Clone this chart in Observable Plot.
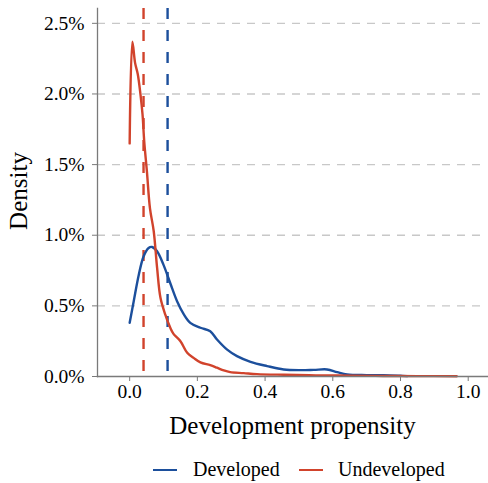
<!DOCTYPE html>
<html>
<head>
<meta charset="utf-8">
<script src="https://cdn.jsdelivr.net/npm/d3@7"></script>
<script src="https://cdn.jsdelivr.net/npm/@observablehq/plot@0.6"></script>
<style>
  body { margin: 0; background: #fff; font-family: "Liberation Serif", serif; }
  #wrap { position: relative; width: 488px; height: 483px; }
  #legend { position: absolute; left: 0; top: 445px; width: 488px; height: 38px; font-size: 20px; color: #000; }
  .key { position: absolute; height: 2.6px; top: 23.5px; }
  .lab { position: absolute; top: 11px; line-height: 26px; }
</style>
</head>
<body>
<div id="wrap">
  <div id="chart"></div>
  <div id="legend"></div>
</div>
<script>
// Density of development propensity, by parcel status
const series = ["Developed", "Undeveloped"];
const colors = ["#1c4f9c", "#d1432c"];

const developedX = [0, 0.012, 0.027, 0.041, 0.056, 0.066, 0.081, 0.1, 0.12, 0.14, 0.16, 0.179, 0.209, 0.238, 0.258, 0.288, 0.317, 0.357, 0.406, 0.455, 0.504, 0.544, 0.583, 0.613, 0.642, 0.7, 0.75, 0.8, 0.82];
const developedY = [0.38, 0.533, 0.72, 0.85, 0.91, 0.917, 0.887, 0.79, 0.66, 0.533, 0.44, 0.38, 0.345, 0.32, 0.262, 0.19, 0.144, 0.104, 0.074, 0.05, 0.045, 0.047, 0.05, 0.031, 0.015, 0.01, 0.009, 0.005, 0.003];

const undevelopedX = [0, 0.008, 0.016, 0.024, 0.032, 0.038, 0.043, 0.051, 0.06, 0.071, 0.081, 0.091, 0.105, 0.12, 0.13, 0.15, 0.17, 0.189, 0.209, 0.238, 0.258, 0.278, 0.297, 0.337, 0.376, 0.455, 0.55, 0.65, 0.75, 0.85, 0.966];
const undevelopedY = [1.65, 2.37, 2.22, 2.14, 1.995, 1.855, 1.665, 1.45, 1.19, 1.03, 0.77, 0.557, 0.44, 0.345, 0.3, 0.25, 0.168, 0.132, 0.1, 0.08, 0.062, 0.043, 0.031, 0.024, 0.017, 0.012, 0.008, 0.006, 0.004, 0.003, 0.002];

// group means (dashed verticals)
const means = [0.112, 0.041];

const xTicks = [0, 0.2, 0.4, 0.6, 0.8, 1.0];
const yTicks = [0, 0.005, 0.01, 0.015, 0.02, 0.025];

const rows = [
  ...developedX.map((x, i) => ({status: series[0], x, y: developedY[i] / 100})),
  ...undevelopedX.map((x, i) => ({status: series[1], x, y: undevelopedY[i] / 100}))
];
const meanRows = series.map((s, i) => ({status: s, x: means[i]}));

const axisGray = "#7a7a7a";
const serif = "Liberation Serif";
const fmtX = d3.format(".1f");
const fmtY = d3.format(".1%");

const chart = Plot.plot({
  width: 488,
  height: 445,
  marginLeft: 97,
  marginRight: 1,
  marginTop: 8,
  marginBottom: 69,
  style: {fontFamily: serif, fontSize: "19.5px", color: "#000", background: "#fff", overflow: "visible"},
  x: {domain: [-0.095, 1.057]},
  y: {domain: [0, 0.02605]},
  color: {domain: series, range: colors},
  marks: [
    Plot.gridY(yTicks.slice(1), {stroke: "#c8c8c8", strokeOpacity: 1, strokeWidth: 1.4, strokeDasharray: "8,7"}),
    Plot.ruleX(meanRows, {x: "x", stroke: "status", strokeWidth: 2.4, strokeDasharray: "11,11"}),
    Plot.line(rows, {x: "x", y: "y", z: "status", stroke: "status", strokeWidth: 2.4, curve: "catmull-rom"}),
    Plot.frame({anchor: "left", stroke: axisGray, strokeWidth: 1.3}),
    Plot.frame({anchor: "bottom", stroke: axisGray, strokeWidth: 1.3}),
    // tick marks
    Plot.axisX(xTicks, {tickSize: 5, stroke: axisGray, tickFormat: () => "", label: null}),
    Plot.axisY(yTicks, {tickSize: 5, stroke: axisGray, tickFormat: () => "", label: null}),
    // tick labels
    Plot.text(xTicks, {x: d => d, text: fmtX, frameAnchor: "bottom", dy: 15, lineAnchor: "middle", fontFamily: serif, fontSize: 19.5, fill: "#000"}),
    Plot.text(yTicks, {y: d => d, text: fmtY, frameAnchor: "left", dx: -13, textAnchor: "end", lineAnchor: "middle", fontFamily: serif, fontSize: 19.5, fill: "#000"}),
    Plot.text(["Development propensity"], {frameAnchor: "bottom", dy: 49, fontSize: 25, fontFamily: serif, fill: "#000", lineAnchor: "middle"})
  ]
});
document.getElementById("chart").appendChild(chart);

// y axis title, rotated along the left edge
d3.select(chart).append("text")
  .attr("transform", "translate(27,191) rotate(-90)")
  .attr("text-anchor", "middle")
  .attr("font-family", serif)
  .attr("font-size", 25)
  .attr("fill", "#000")
  .text("Density");

// legend below the plot
const legend = document.getElementById("legend");
const keyLeft = [153, 299];
const labLeft = [193, 338];
series.forEach((s, i) => {
  const k = document.createElement("div");
  k.className = "key";
  k.style.left = keyLeft[i] + "px";
  k.style.width = "24px";
  k.style.background = colors[i];
  legend.appendChild(k);
  const t = document.createElement("div");
  t.className = "lab";
  t.style.left = labLeft[i] + "px";
  t.textContent = s;
  legend.appendChild(t);
});
</script>
</body>
</html>
